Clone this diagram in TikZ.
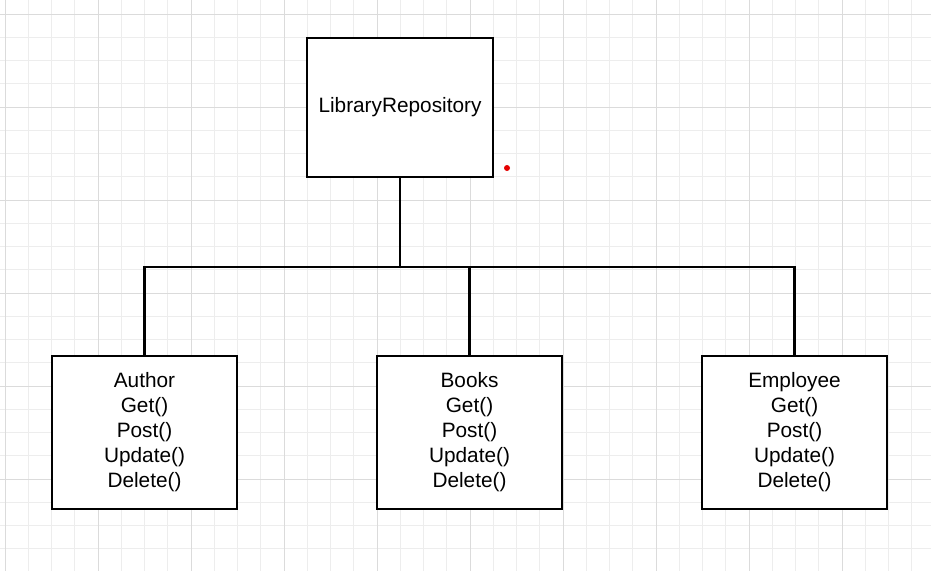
\documentclass[tikz,border=0pt]{standalone}
\usepackage{fontspec}
\setmainfont{Liberation Sans}
\begin{document}
\begin{tikzpicture}[x=1pt,y=-1pt,
  minorline/.style={draw=black!7,line width=1pt},
  majorline/.style={draw=black!14,line width=1pt},
  umlbox/.style={draw=black,line width=2.4pt,fill=white,inner sep=0pt,align=center,
    font=\fontsize{20.8}{25}\selectfont},
  link/.style={draw=black,line width=2.4pt}]
\useasboundingbox (0,0) rectangle (931,571);
\fill[white] (0,0) rectangle (931,571);
\foreach \i in {0,...,39} \draw[minorline] ({5+23.25*\i},0) -- ({5+23.25*\i},571);
\foreach \i in {0,...,23} \draw[minorline] (0,{14+23.25*\i}) -- (931,{14+23.25*\i});
\foreach \i in {0,...,9} \draw[majorline] ({5+93*\i},0) -- ({5+93*\i},571);
\foreach \i in {0,...,5} \draw[majorline] (0,{14+93*\i}) -- (931,{14+93*\i});
\node[umlbox,minimum width=186pt,minimum height=139pt] (repo) at (400,107.5) {LibraryRepository};
\node[umlbox,minimum width=185pt,minimum height=153pt] (author) at (144.5,432.5) {Author\\Get()\\Post()\\Update()\\Delete()};
\node[umlbox,minimum width=185pt,minimum height=153pt] (books) at (469.5,432.5) {Books\\Get()\\Post()\\Update()\\Delete()};
\node[umlbox,minimum width=185pt,minimum height=153pt] (employee) at (794.5,432.5) {Employee\\Get()\\Post()\\Update()\\Delete()};
\coordinate (j) at (400,267);
\draw[link] (repo.south) -- (j);
\draw[link] (author.north) |- (j) -| (employee.north);
\draw[link] (books.north) -- (books.north |- j);
\fill[red!90!black] (507,168) circle (3pt);
\end{tikzpicture}
\end{document}
